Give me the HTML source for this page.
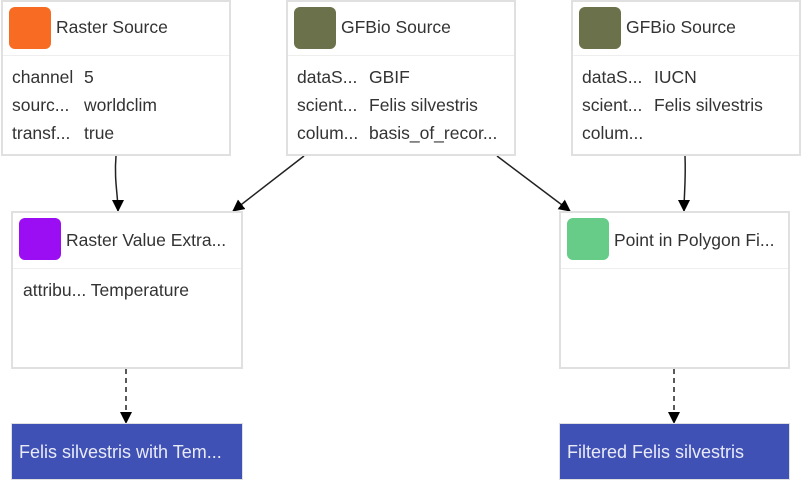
<!DOCTYPE html>
<html><head><meta charset="utf-8"><style>
body{margin:0;width:801px;height:481px;background:#fff;position:relative;overflow:hidden;font-family:"Liberation Sans",Roboto,sans-serif;color:#333}
.n{position:absolute;box-sizing:border-box;border:2px solid #e0e0e0;background:#fff}
.hd{position:absolute;left:0;right:0;top:0;height:53px;border-bottom:1px solid #eee}
.ic{position:absolute;left:6px;top:5px;width:42px;height:42px;border-radius:6px}
.t{position:absolute;left:53px;top:15px;font-size:17.5px;white-space:nowrap}
.r{position:absolute;font-size:17.5px;white-space:nowrap}
.o{position:absolute;background:#3f51b5;color:#e8eaf6;font-size:18px;box-sizing:border-box;padding-left:7px;line-height:56px;border:1px solid #e0e0e0}
svg{position:absolute;left:0;top:0}
</style></head><body>
<svg width="801" height="481">
<defs><marker id="a" markerWidth="12" markerHeight="12" refX="11" refY="6" orient="auto" markerUnits="userSpaceOnUse"><path d="M0,0 L12,6 L0,12 z" fill="#000"/></marker></defs>
<g stroke="#222" stroke-width="1.5" fill="none">
<path d="M116,156 C114,180 118,195 118,211" marker-end="url(#a)"/>
<path d="M304,156 L233,211" marker-end="url(#a)"/>
<path d="M497,156 L570,211" marker-end="url(#a)"/>
<path d="M685,156 C686,180 684,195 684,211" marker-end="url(#a)"/>
<path d="M126,369 L126,423" stroke-dasharray="5,4" marker-end="url(#a)"/>
<path d="M674,369 L674,423" stroke-dasharray="5,4" marker-end="url(#a)"/>
</g></svg>
<div class="n" style="left:1px;top:0;width:230px;height:156px"><div class="hd"><div class="ic" style="background:#f76b22"></div><div class="t">Raster Source</div></div>
<div class="r" style="left:9px;top:65px">channel</div><div class="r" style="left:81px;top:65px">5</div>
<div class="r" style="left:9px;top:93px">sourc...</div><div class="r" style="left:81px;top:93px">worldclim</div>
<div class="r" style="left:9px;top:121px">transf...</div><div class="r" style="left:81px;top:121px">true</div></div>
<div class="n" style="left:286px;top:0;width:230px;height:156px"><div class="hd"><div class="ic" style="background:#6b714b"></div><div class="t">GFBio Source</div></div>
<div class="r" style="left:9px;top:65px">dataS...</div><div class="r" style="left:81px;top:65px">GBIF</div>
<div class="r" style="left:9px;top:93px">scient...</div><div class="r" style="left:81px;top:93px">Felis silvestris</div>
<div class="r" style="left:9px;top:121px">colum...</div><div class="r" style="left:81px;top:121px">basis_of_recor...</div></div>
<div class="n" style="left:571px;top:0;width:230px;height:156px"><div class="hd"><div class="ic" style="background:#6b714b"></div><div class="t">GFBio Source</div></div>
<div class="r" style="left:9px;top:65px">dataS...</div><div class="r" style="left:81px;top:65px">IUCN</div>
<div class="r" style="left:9px;top:93px">scient...</div><div class="r" style="left:81px;top:93px">Felis silvestris</div>
<div class="r" style="left:9px;top:121px">colum...</div></div>
<div class="n" style="left:11px;top:211px;width:232px;height:158px"><div class="hd" style="height:55px"><div class="ic" style="background:#9b0df2"></div><div class="t" style="top:17px">Raster Value Extra...</div></div>
<div class="r" style="left:10px;top:67px">attribu... Temperature</div></div>
<div class="n" style="left:559px;top:211px;width:231px;height:158px"><div class="hd" style="height:55px"><div class="ic" style="background:#66cc88"></div><div class="t" style="top:17px">Point in Polygon Fi...</div></div></div>
<div class="o" style="left:11px;top:423px;width:232px;height:57px">Felis silvestris with Tem...</div>
<div class="o" style="left:559px;top:423px;width:231px;height:57px">Filtered Felis silvestris</div>
</body></html>
